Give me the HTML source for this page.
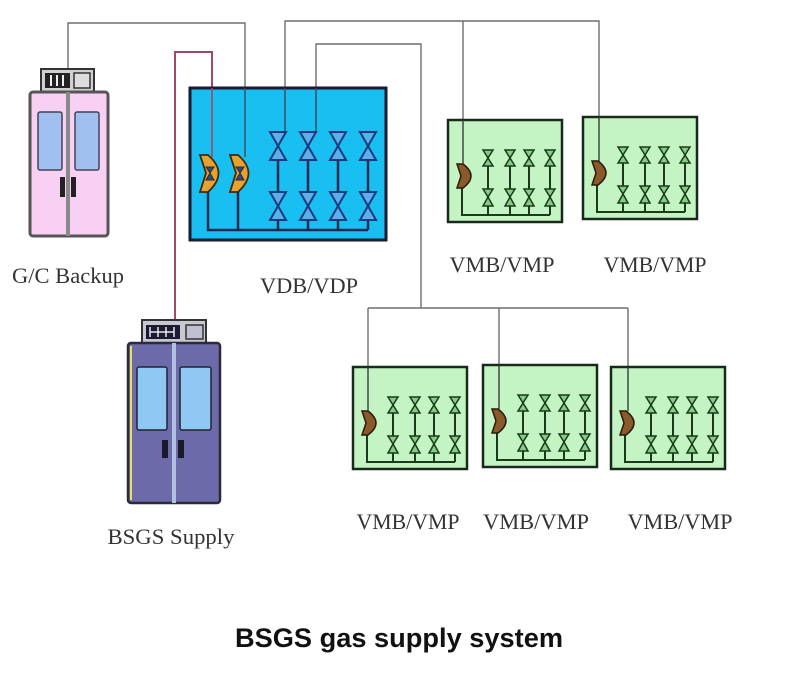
<!DOCTYPE html>
<html><head><meta charset="utf-8"><style>
html,body{margin:0;padding:0;background:#fff;}
svg{display:block;}
</style></head><body>
<svg width="790" height="695" viewBox="0 0 790 695" xmlns="http://www.w3.org/2000/svg">
<defs>
  <g id="vmb">
    <rect x="0" y="0" width="114" height="102" fill="#c4f4c4" stroke="#1a2a1a" stroke-width="2.5"/>
    <g stroke="#1a3a1a" stroke-width="2" fill="none">
      <polyline points="14,66 14,95 102,95"/>
      <line x1="40" y1="30" x2="40" y2="95"/>
      <line x1="62" y1="30" x2="62" y2="95"/>
      <line x1="81" y1="30" x2="81" y2="95"/>
      <line x1="102" y1="30" x2="102" y2="95"/>
    </g>
    <g stroke="#1a3a1a" stroke-width="1.5" fill="#86cc86">
      <polygon points="35,30 45,30 40,38 45,46 35,46 40,38"/>
      <polygon points="57,30 67,30 62,38 67,46 57,46 62,38"/>
      <polygon points="76,30 86,30 81,38 86,46 76,46 81,38"/>
      <polygon points="97,30 107,30 102,38 107,46 97,46 102,38"/>
      <polygon points="35,69 45,69 40,77 45,86 35,86 40,77"/>
      <polygon points="57,69 67,69 62,77 67,86 57,86 62,77"/>
      <polygon points="76,69 86,69 81,77 86,86 76,86 81,77"/>
      <polygon points="97,69 107,69 102,77 107,86 97,86 102,77"/>
    </g>
    <path d="M9,44 L15,44 Q31,56 15,68 L9,68 L13,56 Z" fill="#8a5a2a" stroke="#2a1a0a" stroke-width="1.5"/>
  </g>
  <g id="vdbvalve">
    <polygon points="-8,0 8,0 0,14 8,28 -8,28 0,14" fill="#5ab0e8" stroke="#1a3a80" stroke-width="2"/>
  </g>
  <g id="reg">
    <path d="M0,0 L8,0 Q29,18 8,37 L0,37 L6,18 Z" fill="#e8a030" stroke="#3a2a10" stroke-width="1.8"/>
    <path d="M6,12 L14,12 L10,18 L14,25 L6,25 L10,18 Z" fill="#2a4a80" stroke="#2a2a30" stroke-width="1"/>
  </g>
</defs>

<!-- connectors -->
<g fill="none" stroke="#6e6e6e" stroke-width="1.4">
  <polyline points="68,70 68,23 245,23 245,157"/>
  <polyline points="285,132 285,21 599,21 599,162"/>
  <line x1="463" y1="21" x2="463" y2="165"/>
  <polyline points="316,132 316,44 421,44 421,308"/>
  <line x1="368" y1="308" x2="628" y2="308"/>
  <line x1="368" y1="308" x2="368" y2="412"/>
  <line x1="499" y1="308" x2="499" y2="410"/>
  <line x1="628" y1="308" x2="628" y2="412"/>
</g>
<polyline points="175,321 175,52 212,52 212,88" fill="none" stroke="#a04a6a" stroke-width="2"/>

<!-- VDB box -->
<rect x="190" y="88" width="196" height="152" fill="#18bff0" stroke="#1a1a30" stroke-width="3"/>
<line x1="212" y1="88" x2="212" y2="157" stroke="#a04a6a" stroke-width="1.6"/>
<line x1="245" y1="88" x2="245" y2="157" stroke="#3a4a5a" stroke-width="1.4"/>
<line x1="285" y1="88" x2="285" y2="132" stroke="#3a4a5a" stroke-width="1.4"/>
<line x1="316" y1="88" x2="316" y2="132" stroke="#3a4a5a" stroke-width="1.4"/>
<g stroke="#1a2a50" stroke-width="2.5" fill="none">
  <polyline points="208,190 208,230 368,230"/>
  <line x1="238" y1="190" x2="238" y2="230"/>
  <line x1="278" y1="132" x2="278" y2="230"/>
  <line x1="308" y1="132" x2="308" y2="230"/>
  <line x1="338" y1="132" x2="338" y2="230"/>
  <line x1="368" y1="132" x2="368" y2="230"/>
</g>
<use href="#vdbvalve" x="278" y="132"/>
<use href="#vdbvalve" x="308" y="132"/>
<use href="#vdbvalve" x="338" y="132"/>
<use href="#vdbvalve" x="368" y="132"/>
<use href="#vdbvalve" x="278" y="192"/>
<use href="#vdbvalve" x="308" y="192"/>
<use href="#vdbvalve" x="338" y="192"/>
<use href="#vdbvalve" x="368" y="192"/>
<use href="#reg" x="200" y="155"/>
<use href="#reg" x="230" y="155"/>

<!-- VMB boxes -->
<use href="#vmb" x="448" y="120"/>
<use href="#vmb" x="583" y="117"/>
<use href="#vmb" x="353" y="367"/>
<use href="#vmb" x="483" y="365"/>
<use href="#vmb" x="611" y="367"/>
<g stroke="#3a3a3a" stroke-width="1.4">
  <line x1="463" y1="120" x2="463" y2="164"/>
  <line x1="599" y1="117" x2="599" y2="161"/>
  <line x1="368" y1="367" x2="368" y2="411"/>
  <line x1="499" y1="365" x2="499" y2="409"/>
  <line x1="628" y1="367" x2="628" y2="411"/>
</g>

<!-- G/C cabinet -->
<rect x="41" y="69" width="53" height="23" fill="#d0d0d0" stroke="#333" stroke-width="2"/>
<rect x="45" y="73" width="25" height="15" fill="#222"/>
<g stroke="#eee" stroke-width="2"><line x1="51" y1="75" x2="51" y2="86"/><line x1="57" y1="75" x2="57" y2="86"/><line x1="63" y1="75" x2="63" y2="86"/></g>
<rect x="74" y="73" width="16" height="15" fill="#ddd" stroke="#333" stroke-width="1.5"/>
<rect x="30" y="92" width="78" height="144" rx="3" fill="#f8d0f4" stroke="#555" stroke-width="3"/>
<rect x="66" y="92" width="4" height="144" fill="#888"/>
<rect x="38" y="112" width="24" height="58" rx="2" fill="#a0c0f0" stroke="#445" stroke-width="1.5"/>
<rect x="75" y="112" width="24" height="58" rx="2" fill="#a0c0f0" stroke="#445" stroke-width="1.5"/>
<rect x="60" y="177" width="5" height="20" fill="#222"/>
<rect x="71" y="177" width="5" height="20" fill="#222"/>

<!-- BSGS cabinet -->
<rect x="142" y="320" width="64" height="23" fill="#c8c8d0" stroke="#333" stroke-width="2"/>
<rect x="146" y="325" width="34" height="14" fill="#1a1a30"/>
<g stroke="#e8e8f0" stroke-width="1.5"><line x1="150" y1="327" x2="150" y2="337"/><line x1="150" y1="332" x2="158" y2="332"/><line x1="158" y1="327" x2="158" y2="337"/><line x1="158" y1="332" x2="166" y2="332"/><line x1="166" y1="327" x2="166" y2="337"/><line x1="166" y1="332" x2="174" y2="332"/><line x1="174" y1="327" x2="174" y2="337"/></g>
<rect x="186" y="325" width="17" height="14" fill="#c0c0d0" stroke="#333" stroke-width="1.5"/>
<rect x="128" y="343" width="92" height="160" rx="3" fill="#6c6aa8" stroke="#2a2a3a" stroke-width="2.5"/>
<line x1="131" y1="346" x2="131" y2="500" stroke="#e8e060" stroke-width="2"/>
<rect x="172" y="343" width="4" height="160" fill="#b0c0e0"/>
<rect x="137" y="367" width="30" height="63" rx="2" fill="#90c8f4" stroke="#223" stroke-width="1.5"/>
<rect x="180" y="367" width="31" height="63" rx="2" fill="#90c8f4" stroke="#223" stroke-width="1.5"/>
<rect x="162" y="440" width="6" height="18" fill="#1a1a2a"/>
<rect x="178" y="440" width="6" height="18" fill="#1a1a2a"/>

<!-- labels -->
<g font-family="'Liberation Serif', serif" font-size="22" fill="#333" text-anchor="middle">
  <text x="68" y="283" textLength="112" lengthAdjust="spacingAndGlyphs">G/C Backup</text>
  <text x="309" y="293" textLength="98" lengthAdjust="spacingAndGlyphs">VDB/VDP</text>
  <text x="502" y="272" textLength="105" lengthAdjust="spacingAndGlyphs">VMB/VMP</text>
  <text x="655" y="272" textLength="103" lengthAdjust="spacingAndGlyphs">VMB/VMP</text>
  <text x="408" y="529" textLength="103" lengthAdjust="spacingAndGlyphs">VMB/VMP</text>
  <text x="536" y="529" textLength="106" lengthAdjust="spacingAndGlyphs">VMB/VMP</text>
  <text x="680" y="529" textLength="105" lengthAdjust="spacingAndGlyphs">VMB/VMP</text>
  <text x="171" y="544" textLength="127" lengthAdjust="spacingAndGlyphs">BSGS Supply</text>
</g>
<text x="399" y="647" font-family="'Liberation Sans', sans-serif" font-weight="bold" font-size="27" fill="#111" text-anchor="middle" textLength="328" lengthAdjust="spacingAndGlyphs">BSGS gas supply system</text>
</svg>
</body></html>
